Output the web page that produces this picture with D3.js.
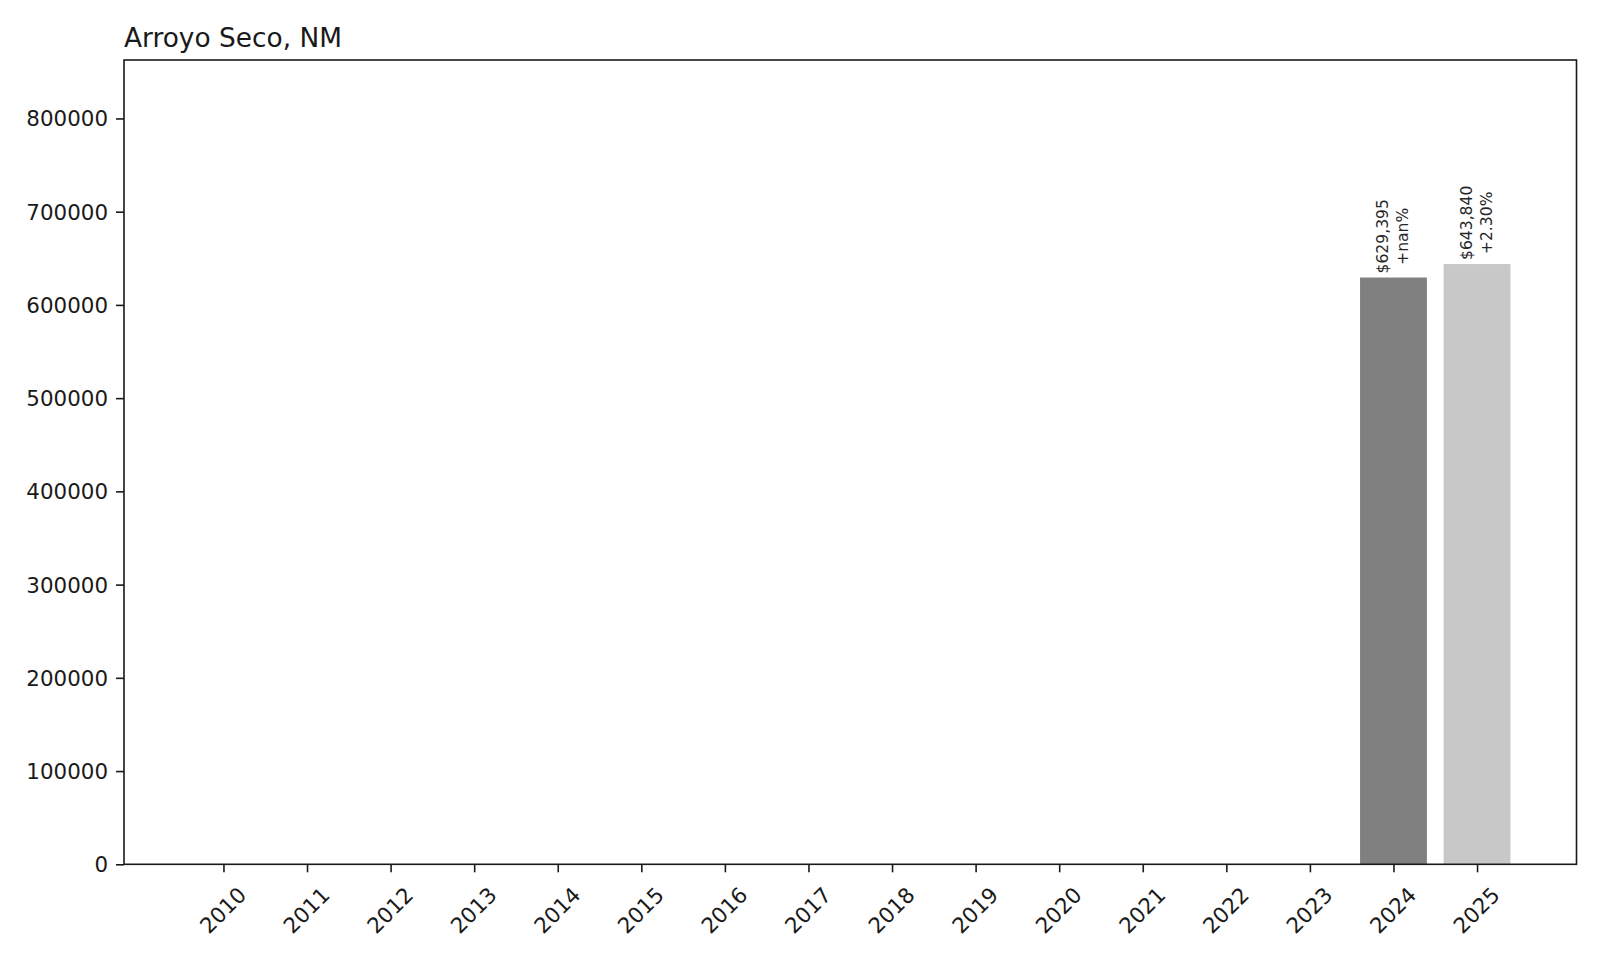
<!DOCTYPE html>
<html lang="en">
<head>
<meta charset="utf-8">
<title>Arroyo Seco, NM</title>
<script src="https://d3js.org/d3.v7.min.js"></script>
<style>
  body { margin: 0; background: #fff; }
  svg { display: block; font-family: "DejaVu Sans", sans-serif; }
  .axis path, .axis line { stroke: #1a1a1a; stroke-width: 1.6; }
  .axis text { font-family: "DejaVu Sans", sans-serif; font-size: 21.4px; fill: #1a1a1a; }
  .barlabel { font-family: "DejaVu Sans", sans-serif; font-size: 15.6px; fill: #262626; }
</style>
</head>
<body>
<div id="chart"></div>
<script>
"use strict";

var years = ["2010","2011","2012","2013","2014","2015","2016","2017",
             "2018","2019","2020","2021","2022","2023","2024","2025"];
var values = [null,null,null,null,null,null,null,null,
              null,null,null,null,null,null,629395,643840];
var barColors = ["#808080","#808080","#808080","#808080","#808080","#808080","#808080","#808080",
                 "#808080","#808080","#808080","#808080","#808080","#808080","#808080","#c8c8c8"];
var yTicks = [0,100000,200000,300000,400000,500000,600000,700000,800000];
var yMax = 862700;

var W = 1600, H = 960;
var plot = {left: 124, right: 1576.5, top: 60, bottom: 864.3};

var svg = d3.select("#chart").append("svg")
  .attr("width", W).attr("height", H);

var x = d3.scaleLinear().domain([-1.19, years.length - 1 + 1.19]).range([plot.left, plot.right]);
var y = d3.scaleLinear().domain([0, yMax]).range([plot.bottom, plot.top]);
var barW = 0.8;

// bars
var rows = years.map(function(yr, i) { return {year: yr, i: i, v: values[i]}; })
  .filter(function(d) { return d.v != null; });

svg.selectAll("rect.bar").data(rows).enter().append("rect")
  .attr("class", "bar")
  .attr("x", function(d) { return x(d.i - barW / 2); })
  .attr("width", function(d) { return x(d.i + barW / 2) - x(d.i - barW / 2); })
  .attr("y", function(d) { return y(d.v); })
  .attr("height", function(d) { return y(0) - y(d.v); })
  .attr("fill", function(d) { return barColors[d.i]; });

// labels: value and change vs previous year
function pctText(i) {
  var prev = values[i - 1];
  if (prev == null) return "+nan%";
  var p = (values[i] / prev - 1) * 100;
  return (p >= 0 ? "+" : "") + p.toFixed(2) + "%";
}
var fmt = d3.format(",");

rows.forEach(function(d) {
  var g = svg.append("g")
    .attr("transform", "translate(" + x(d.i) + "," + (y(d.v) - 4) + ") rotate(-90)");
  var lines = ["$" + fmt(d.v), pctText(d.i)];
  var t = lines.map(function(s, k) {
    return g.append("text").attr("class", "barlabel")
      .attr("y", k === 0 ? -10 : 10)
      .attr("dominant-baseline", "central")
      .attr("text-anchor", "middle")
      .text(s);
  });
  var maxLen = d3.max(t, function(n) { return n.node().getComputedTextLength(); });
  t.forEach(function(n) { n.attr("x", maxLen / 2); });
});

// frame
svg.append("rect")
  .attr("x", plot.left).attr("y", plot.top)
  .attr("width", plot.right - plot.left).attr("height", plot.bottom - plot.top)
  .attr("fill", "none").attr("stroke", "#1a1a1a").attr("stroke-width", 1.6);

// y axis
var yAxis = svg.append("g").attr("class", "axis")
  .attr("transform", "translate(" + plot.left + ",0)")
  .call(d3.axisLeft(y).tickValues(yTicks).tickFormat(d3.format("d"))
        .tickSize(8).tickSizeOuter(0).tickPadding(8));
yAxis.select(".domain").remove();
yAxis.selectAll("text").attr("dy", "0.35em");

// x axis
var xAxis = svg.append("g").attr("class", "axis")
  .attr("transform", "translate(0," + plot.bottom + ")")
  .call(d3.axisBottom(x).tickValues(d3.range(years.length))
        .tickFormat(function(i) { return years[i]; })
        .tickSize(8).tickSizeOuter(0));
xAxis.select(".domain").remove();
xAxis.selectAll("text")
  .attr("y", 0).attr("dy", null)
  .attr("dominant-baseline", "central")
  .attr("text-anchor", "middle")
  .attr("transform", "translate(-1,46) rotate(-45)");

// title
svg.append("text")
  .attr("x", plot.left).attr("y", 47)
  .attr("font-size", "26.4px").attr("fill", "#1a1a1a")
  .text("Arroyo Seco, NM");
</script>
</body>
</html>
